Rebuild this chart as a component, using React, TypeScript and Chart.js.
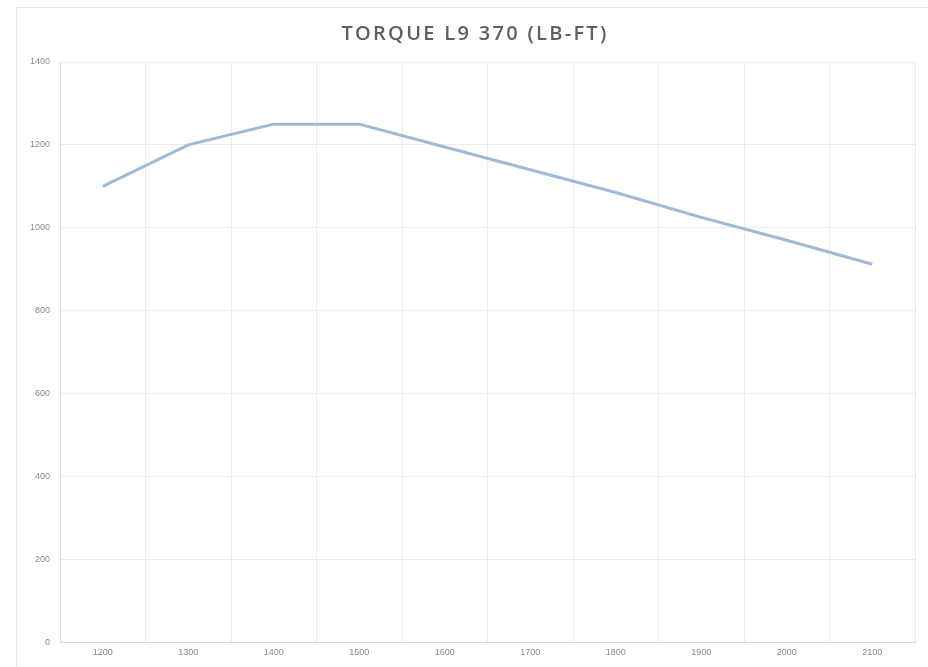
import React, { useEffect, useRef } from "react";
import { Chart, registerables } from "chart.js";

Chart.register(...registerables);

const rpmCategories = ["1200", "1300", "1400", "1500", "1600", "1700", "1800", "1900", "2000", "2100"];
const torqueValues = [1100, 1200, 1250, 1250, 1195, 1140, 1085, 1025, 970, 912];
const chartTitle = "TORQUE L9 370 (LB-FT)";

const spacedTitlePlugin = {
  id: "spacedTitle",
  afterDraw(chart: any) {
    const ctx = chart.ctx as CanvasRenderingContext2D;
    ctx.save();
    ctx.font = "600 20px 'Open Sans', sans-serif";
    ctx.fillStyle = "#606060";
    ctx.textAlign = "center";
    ctx.textBaseline = "middle";
    try {
      (ctx as any).letterSpacing = "2.3px";
    } catch (e) {}
    ctx.fillText(chartTitle, 458, 26);
    ctx.restore();
  },
};

export default function App() {
  const canvasRef = useRef<HTMLCanvasElement | null>(null);

  useEffect(() => {
    if (!canvasRef.current) return;
    const chart = new Chart(canvasRef.current, {
      type: "line",
      data: {
        labels: rpmCategories,
        datasets: [
          {
            data: torqueValues,
            borderColor: "#a0b9d9",
            borderWidth: 3,
            pointRadius: 0,
            tension: 0,
            fill: false,
          },
        ],
      },
      options: {
        animation: false,
        responsive: false,
        maintainAspectRatio: false,
        layout: { padding: { left: 0, right: 13, top: 54, bottom: 4 } },
        plugins: {
          legend: { display: false },
          tooltip: { enabled: false },
          title: { display: false },
        },
        scales: {
          x: {
            offset: true,
            grid: { offset: true, color: "#ececec", drawTicks: false },
            border: { color: "#d9d9d9" },
            ticks: {
              color: "#8a8a8a",
              font: { family: "'Liberation Sans', sans-serif", size: 9 },
              padding: 5,
              maxRotation: 0,
            },
          },
          y: {
            min: 0,
            max: 1400,
            afterFit: (scale: any) => {
              scale.width = 43;
            },
            grid: { color: "#ececec", drawTicks: false },
            border: { color: "#dcdcdc" },
            ticks: {
              stepSize: 200,
              color: "#8a8a8a",
              font: { family: "'Liberation Sans', sans-serif", size: 9 },
              padding: 10,
              callback: (value: any) => String(value),
            },
          },
        },
      },
      plugins: [spacedTitlePlugin],
    });
    return () => chart.destroy();
  }, []);

  return (
    <div
      style={{
        position: "absolute",
        left: 16,
        top: 7,
        width: 911,
        height: 659,
        borderLeft: "1px solid #e6e6e6",
        borderTop: "1px solid #e6e6e6",
        boxSizing: "content-box",
        background: "#fff",
      }}
    >
      <canvas ref={canvasRef} width={911} height={659} style={{ display: "block" }} />
    </div>
  );
}
